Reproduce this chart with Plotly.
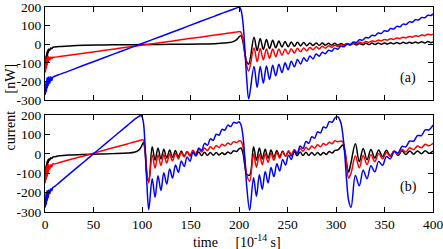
import plotly.graph_objects as go

# ---------------- panel (a) ----------------
t_a = [0, 0.5, 1, 1.5, 2, 2.5, 3, 3.5, 4, 5, 6, 7, 8, 10,
       15, 25, 40, 60, 80, 100, 120, 140, 160, 175, 185, 190, 194, 197, 199, 200.5,
       202, 204, 206, 208, 210,
       215.5, 218.7, 221.9, 225.1, 228.3, 231.5, 234.7, 237.9, 241.1, 244.3,
       247.5, 250.7, 253.9, 257.1, 260.3, 263.5, 266.7, 269.9, 273.1, 276.3,
       279.5, 282.7, 285.9, 289.1, 292.3, 295.5, 298.7, 301.9, 305.1, 308.3,
       311.5, 314.7, 317.9, 321.1, 324.3, 327.5, 330.7, 333.9, 337.1, 340.3,
       343.5, 346.7, 349.9, 353.1, 356.3, 359.5, 362.7, 365.9, 369.1, 372.3,
       375.5, 378.7, 381.9, 385.1, 388.3, 391.5, 394.7, 397.9, 400]

black_a = [-95, -125, -60, -90, -40, -65, -30, -45, -25, -32, -20, -24, -17, -15,
           -12, -9, -6, -4, -3, -2, -1, 0, 1, 3, 6, 9, 14, 22, 32, 42,
           46, 15, -50, -95, -107,
           38, -34, 31, -28, 25, -23, 21, -19, 17, -15,
           14, -13, 12, -11, 10, -9, 9, -8, 7, -7,
           7, -6, 6, -5, 5, -5, 5, -5, 4, -4,
           4, -4, 4, -4, 4, -3, 5, -2, 6, -1,
           6, 0, 7, 1, 8, 2, 9, 3, 10, 4,
           11, 5, 12, 6, 13, 7, 14, 8, 12]

red_a = [-110, -150, -80, -130, -70, -110, -65, -95, -68, -85, -68, -78, -70, -70,
         -66, -59, -48, -34, -19, -5, 9, 24, 38, 49, 56, 60, 63, 65, 67, 68,
         64, 30, -40, -115, -144,
         -20, -94, -23, -84, -25, -75, -26, -67, -26, -59,
         -26, -53, -24, -47, -22, -41, -20, -35, -17, -30,
         -14, -25, -11, -21, -8, -16, -5, -12, -1, -7,
         2, -2, 6, 2, 10, 6, 14, 10, 18, 14,
         22, 18, 26, 22, 30, 26, 34, 30, 38, 34,
         42, 38, 46, 42, 50, 46, 54, 50, 54]

blue_a = [-230, -270, -200, -255, -180, -235, -180, -220, -175, -210, -175, -195, -178, -172,
          -162, -143, -113, -74, -35, 4, 43, 82, 122, 151, 171, 180, 188, 194, 198, 199,
          185, 120, -20, -190, -293,
          -120, -232, -120, -209, -117, -189, -113, -170, -107, -153,
          -100, -137, -91, -121, -82, -106, -73, -92, -63, -79,
          -53, -64, -43, -51, -32, -38, -21, -27, -10, -14,
          0, -2, 12, 10, 24, 22, 36, 34, 48, 46,
          60, 58, 72, 70, 84, 82, 96, 94, 108, 106,
          120, 118, 132, 130, 144, 142, 156, 154, 164]

# ---------------- panel (b) ----------------
t_b = [0, 0.5, 1, 1.5, 2, 2.5, 3, 3.5, 4, 5, 6, 7, 8, 10,
       15, 25, 40, 55, 70, 85, 92, 96, 98.5, 100,
       101.5, 103, 105, 107,
       110.5, 113.5, 116.5, 119.5, 122.5, 125.5, 128.5, 131.5, 134.5, 137.5,
       140.5, 143.5, 146.5, 149.5, 152.5, 155.5, 158.5, 161.5, 164.5, 167.5,
       170.5, 173.5, 176.5, 179.5, 182.5, 185.5, 188.5, 191.5, 194.5,
       197.5, 200, 202, 204, 206, 208, 211,
       215, 218, 221, 224, 227, 230, 233, 236, 239, 242,
       245, 248, 251, 254, 257, 260, 263, 266, 269, 272,
       275, 278, 281, 284, 287, 290, 293, 296, 299,
       302, 305, 307, 309, 311, 313, 315.5,
       320, 324, 328, 332, 336, 340, 344, 348, 352, 356,
       360, 364, 368, 372, 376, 380, 384, 388, 392, 396, 400]

black_b = [-95, -125, -60, -90, -40, -65, -30, -45, -25, -32, -20, -24, -17, -15,
           -10, -6, -3, -1, 1, 4, 8, 16, 30, 45,
           58, 20, -110, -140,
           36, -33, 30, -27, 24, -22, 20, -18, 17, -16,
           14, -13, 12, -11, 11, -10, 9, -9, 8, -8,
           7, -7, 7, -6, 6, -4, 10, 1, 16,
           12, 25, 30, 5, -60, -105, -110,
           36, -33, 30, -27, 24, -22, 20, -18, 17, -15,
           14, -13, 12, -11, 10, -10, 9, -9, 8, -8,
           7, -7, 7, -6, 7, -3, 12, 4, 18,
           20, 36, 45, 15, -50, -95, -45,
           52, -40, 28, -30, 22, -22, 20, -15, 18, -10,
           15, -8, 16, -4, 15, -2, 15, 0, 16, 2, 14]

red_b = [-110, -150, -75, -130, -60, -115, -55, -95, -58, -80, -55, -68, -52, -52,
         -45, -31, -11, 10, 31, 51, 61, 66, 70, 72,
         70, 30, -90, -150,
         -6, -73, -6, -60, -4, -48, -1, -37, 3, -27,
         7, -17, 12, -8, 18, 1, 24, 9, 30, 17,
         36, 25, 42, 33, 49, 41, 56, 48, 63,
         58, 66, 66, 40, -30, -110, -142,
         -2, -69, -2, -56, 0, -44, 3, -33, 7, -23,
         11, -13, 16, -4, 22, 5, 28, 13, 34, 21,
         40, 29, 47, 37, 53, 45, 60, 52, 67,
         62, 66, 62, 25, -55, -125, -100,
         -10, -72, -9, -55, -5, -40, 1, -26, 7, -14,
         14, -2, 22, 10, 31, 21, 40, 31, 49, 41, 54]

blue_b = [-235, -275, -205, -260, -190, -240, -190, -225, -185, -205, -180, -190, -175, -168,
          -147, -105, -42, 21, 84, 147, 176, 190, 198, 192,
          160, 60, -150, -288,
          -128, -224, -113, -189, -97, -156, -78, -125, -58, -95,
          -37, -66, -16, -38, 7, -10, 30, 17, 54, 44,
          77, 70, 101, 96, 126, 122, 148, 141, 162,
          158, 165, 150, 95, -20, -170, -291,
          -123, -219, -108, -183, -91, -150, -71, -118, -51, -88,
          -29, -58, -7, -29, 16, -1, 40, 27, 64, 54,
          88, 81, 113, 108, 138, 134, 166, 163, 185,
          190, 160, 100, 0, -140, -240, -277,
          -112, -165, -85, -128, -62, -93, -39, -59, -14, -26,
          11, 5, 38, 36, 66, 65, 94, 94, 123, 124, 148]

x_ticks = [0, 50, 100, 150, 200, 250, 300, 350, 400]
y_ticks = [-300, -200, -100, 0, 100, 200]
y_ticktext = ["-300", "-200", "-100", "0", "100", "200"]

colors = {"black": "#000000", "red": "#ff0000", "blue": "#0000ff"}

fig = go.Figure()
for t, series, xa, ya in [(t_a, [black_a, red_a, blue_a], "x", "y"),
                          (t_b, [black_b, red_b, blue_b], "x2", "y2")]:
    for vals, col in zip(series, ["black", "red", "blue"]):
        fig.add_trace(go.Scatter(x=t, y=vals, mode="lines", xaxis=xa, yaxis=ya,
                                 line=dict(color=colors[col], width=1.5,
                                           shape="spline", smoothing=1.0),
                                 showlegend=False, hoverinfo="skip"))

axis_common = dict(showline=True, linecolor="black", linewidth=1, mirror="ticks",
                   ticks="inside", ticklen=5, tickwidth=1, tickcolor="black",
                   showgrid=False, zeroline=False, automargin=False,
                   ticklabeloverflow="allow")

fig.update_layout(
    width=443, height=249,
    margin=dict(l=45, r=10, t=7, b=37),
    paper_bgcolor="white", plot_bgcolor="white",
    font=dict(family="Liberation Serif", size=13.5, color="black"),
    xaxis=dict(domain=[0, 1], range=[0, 400], anchor="y", tickvals=x_ticks,
               showticklabels=False, **axis_common),
    yaxis=dict(domain=[0.546, 1], range=[-300, 200], anchor="x", tickvals=y_ticks,
               ticktext=y_ticktext, **axis_common),
    xaxis2=dict(domain=[0, 1], range=[0, 400], anchor="y2", tickvals=x_ticks,
                **axis_common),
    yaxis2=dict(domain=[0, 0.473], range=[-300, 200], anchor="x2", tickvals=y_ticks,
                ticktext=y_ticktext, **axis_common),
    annotations=[
        dict(text="current&nbsp;&nbsp;&nbsp;&nbsp;&nbsp;[nW]", xref="paper", yref="paper",
             x=-0.09, y=0.51, textangle=-90, showarrow=False,
             font=dict(size=14), xanchor="center", yanchor="middle"),
        dict(text="time&nbsp;&nbsp;&nbsp;&nbsp;&nbsp;[10<sup>-14</sup> s]", xref="paper",
             yref="paper", x=0.496, y=-0.142, showarrow=False,
             font=dict(size=14), xanchor="center", yanchor="middle"),
        dict(text="(a)", xref="paper", yref="paper", x=0.9356, y=0.654,
             showarrow=False, font=dict(size=14), xanchor="center", yanchor="middle"),
        dict(text="(b)", xref="paper", yref="paper", x=0.9356, y=0.122,
             showarrow=False, font=dict(size=14), xanchor="center", yanchor="middle"),
    ],
)

fig.write_html("out.html", config={"displayModeBar": False},
               post_script="document.body.style.margin='0';document.body.style.padding='0';")
